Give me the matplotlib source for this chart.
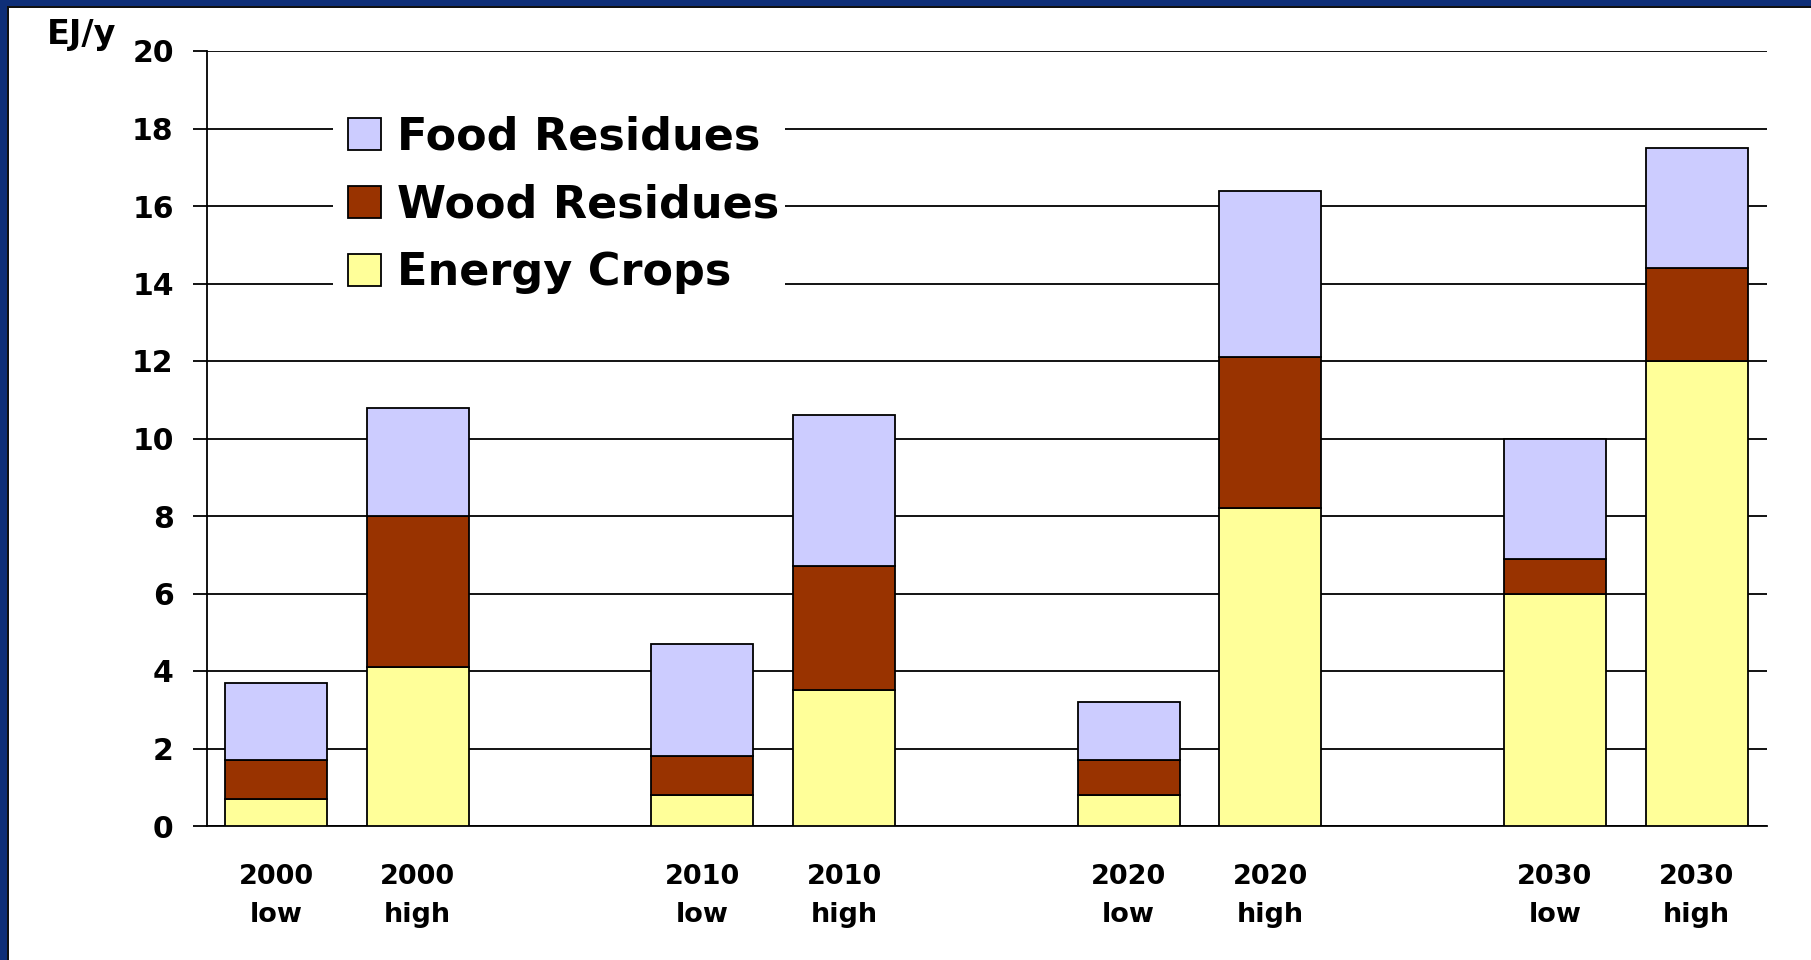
import matplotlib
matplotlib.use("Agg")
import matplotlib.pyplot as plt
from matplotlib.patches import Rectangle, Patch
import numpy as np

# Bioenergy potential by scenario (EJ per year)
years = ["2000", "2010", "2020", "2030"]
scenarios = ["low", "high"]
categories = [f"{y}\n{s}" for y in years for s in scenarios]
energy_crops = [0.7, 4.1, 0.8, 3.5, 0.8, 8.2, 6.0, 12.0]
wood_residues = [1.0, 3.9, 1.0, 3.2, 0.9, 3.9, 0.9, 2.4]
food_residues = [2.0, 2.8, 2.9, 3.9, 1.5, 4.3, 3.1, 3.1]

series = [
    ("Energy Crops", energy_crops, "#FFFF99"),
    ("Wood Residues", wood_residues, "#993300"),
    ("Food Residues", food_residues, "#CCCCFF"),
]

plt.rcParams["font.family"] = ["DejaVu Sans"]
plt.rcParams["font.weight"] = "bold"

W, H = 1811, 960
fig = plt.figure(figsize=(W / 100, H / 100), dpi=100)
fig.patch.set_facecolor("white")

# navy frame along the top and left edges
fig.patches.append(Rectangle((0, 1 - 6 / H), 1, 6 / H, transform=fig.transFigure,
                             facecolor="#0f2f78", edgecolor="none", zorder=0))
fig.patches.append(Rectangle((0, 1 - 8 / H), 1, 2 / H, transform=fig.transFigure,
                             facecolor="#111111", edgecolor="none", zorder=0))
fig.patches.append(Rectangle((0, 0), 7 / W, 1, transform=fig.transFigure,
                             facecolor="#0f2f78", edgecolor="none", zorder=0))
fig.patches.append(Rectangle((7 / W, 0), 1.5 / W, 1 - 6 / H, transform=fig.transFigure,
                             facecolor="#111111", edgecolor="none", zorder=0))

ax = fig.add_axes([207 / W, 134 / H, (1767 - 207) / W, (826 - 51) / H])

group_gap = 4.18
pair_gap = 1.39
x = np.array([g * group_gap + s * pair_gap for g in range(len(years)) for s in range(len(scenarios))])

bottom = np.zeros(len(categories))
for name, vals, color in series:
    ax.bar(x, vals, width=1.0, bottom=bottom, color=color, edgecolor="black",
           linewidth=1.3, label=name, zorder=3)
    bottom += np.array(vals)

ax.set_xlim(-0.676, 14.62)
ax.set_ylim(0, 20)
ax.set_yticks(np.arange(0, 21, 2))
ax.set_xticks(x)
ax.set_xticklabels(categories, fontsize=19.5, fontweight="bold", linespacing=1.58)
ax.tick_params(axis="x", length=0, pad=27.5)
ax.tick_params(axis="y", length=10, width=1.3, direction="out", pad=14, labelsize=21.5)
for lab in ax.get_yticklabels():
    lab.set_fontweight("bold")

ax.yaxis.grid(True, color="black", linewidth=1.3, zorder=0)
ax.set_axisbelow(True)
for side in ["top", "right"]:
    ax.spines[side].set_visible(False)
ax.spines["left"].set_linewidth(1.3)
ax.spines["bottom"].set_linewidth(1.3)

fig.text(47 / W, 1 - 44 / H, "EJ/y", fontsize=24, fontweight="bold", ha="left", va="baseline")

# white panel behind the legend, cutting the gridlines
ax.add_patch(Rectangle((333 / W, 1 - 310 / H), (785 - 333) / W, 210 / H,
                       transform=fig.transFigure, facecolor="white", edgecolor="none",
                       zorder=1, clip_on=False))

handles = [Patch(facecolor=c, edgecolor="black", linewidth=1.3, label=n)
           for n, _, c in series[::-1]]
leg = ax.legend(handles=handles, loc="upper left",
                bbox_to_anchor=(344 / W, 1 - 111 / H), bbox_transform=fig.transFigure,
                prop={"size": 32, "weight": "bold"}, frameon=False,
                handlelength=0.74, handleheight=0.74, handletextpad=0.36,
                labelspacing=0.56, borderpad=0.1, borderaxespad=0)
leg.set_zorder(5)

fig.savefig("out.png", dpi=100, facecolor=fig.get_facecolor())
